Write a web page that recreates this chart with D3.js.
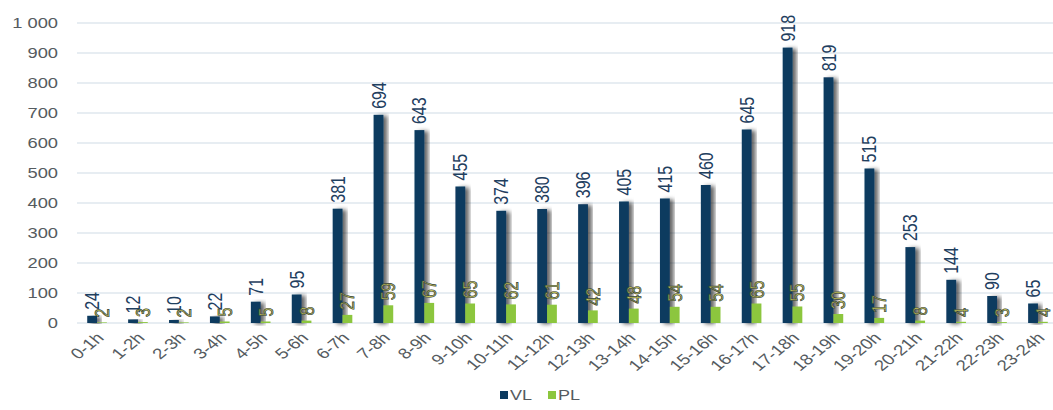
<!DOCTYPE html>
<html>
<head>
<meta charset="utf-8">
<script src="https://cdn.jsdelivr.net/npm/d3@7"></script>
<style>
body{margin:0;background:#fff;}
text{font-family:"Liberation Sans",Arial,sans-serif;}
</style>
</head>
<body>
<div id="chart"></div>
<script>
// hours of the day
var hours = ["0-1h","1-2h","2-3h","3-4h","4-5h","5-6h","6-7h","7-8h","8-9h","9-10h","10-11h","11-12h",
    "12-13h","13-14h","14-15h","15-16h","16-17h","17-18h","18-19h","19-20h","20-21h","21-22h","22-23h","23-24h"];
var vlValues = [24,12,10,22,71,95,381,694,643,455,374,380,396,405,415,460,645,918,819,515,253,144,90,65];
var plValues = [2,3,2,5,5,8,27,59,67,65,62,61,42,48,54,54,65,55,30,17,8,4,3,4];
var yTicks = [0,100,200,300,400,500,600,700,800,900,1000];
var seriesNames = ["VL","PL"];

var width = 1053, height = 410;
var colors = {VL:"#0c3a5f", PL:"#8cc63e"};
var sx = 1.22; // the picture is a bit wider than tall, text too

var svg = d3.select("#chart").append("svg")
    .attr("width", width)
    .attr("height", height);

// drop shadow like in excel
var filter = svg.append("defs").append("filter")
    .attr("id","shadow")
    .attr("x","-50%").attr("y","-10%")
    .attr("width","200%").attr("height","120%");
filter.append("feDropShadow")
    .attr("dx",4).attr("dy",1)
    .attr("stdDeviation",2)
    .attr("flood-color","#000")
    .attr("flood-opacity",0.6);

var x = d3.scaleBand().domain(hours).range([77, 1058]).paddingInner(0.52).paddingOuter(0.25);
var inner = d3.scaleBand().domain(seriesNames).range([0, x.bandwidth()]);
var y = d3.scaleLinear().domain([0,1000]).range([323,23]);

var fmt = d3.formatLocale({decimal:",", thousands:" ", grouping:[3], currency:["",""]}).format(",");

// gridlines
svg.append("g").selectAll("line")
    .data(yTicks)
    .enter()
    .append("line")
    .attr("x1", 77).attr("x2", 1053)
    .attr("y1", function(d){ return y(d); })
    .attr("y2", function(d){ return y(d); })
    .attr("stroke", "#dfe7ee")
    .attr("stroke-width", 1.5);

// y labels
svg.append("g").selectAll("text")
    .data(yTicks)
    .enter()
    .append("text")
    .attr("transform", function(d){ return "translate(58," + y(d) + ") scale(" + sx + ",1)"; })
    .attr("dy", "0.36em")
    .attr("text-anchor", "end")
    .attr("font-size", 15)
    .attr("fill", "#555b60")
    .text(function(d){ return fmt(d); });

var rows = hours.map(function(h, i){ return {hour:h, VL:vlValues[i], PL:plValues[i]}; });

// VL bars
svg.append("g").selectAll("rect")
    .data(rows)
    .enter()
    .append("rect")
    .attr("x", function(d){ return x(d.hour) + inner("VL"); })
    .attr("width", inner.bandwidth())
    .attr("y", function(d){ return y(d.VL); })
    .attr("height", function(d){ return y(0) - y(d.VL); })
    .attr("fill", colors.VL)
    .attr("filter", "url(#shadow)");

// PL bars
svg.append("g").selectAll("rect")
    .data(rows)
    .enter()
    .append("rect")
    .attr("x", function(d){ return x(d.hour) + inner("PL"); })
    .attr("width", inner.bandwidth())
    .attr("y", function(d){ return y(d.PL); })
    .attr("height", function(d){ return y(0) - y(d.PL); })
    .attr("fill", colors.PL);

// VL value labels
svg.append("g").selectAll("text")
    .data(rows)
    .enter()
    .append("text")
    .attr("transform", function(d){
        var cx = x(d.hour) + inner("VL") + inner.bandwidth()/2;
        return "translate(" + cx + "," + (y(d.VL) - 6) + ") scale(" + sx + ",1) rotate(-90)";
    })
    .attr("dy", "0.36em")
    .attr("font-size", 16)
    .attr("fill", "#1f405f")
    .text(function(d){ return d.VL; });

// PL value labels
svg.append("g").selectAll("text")
    .data(rows)
    .enter()
    .append("text")
    .attr("transform", function(d){
        var cx = x(d.hour) + inner("PL") + inner.bandwidth()/2;
        return "translate(" + cx + "," + (y(d.PL) - 5) + ") scale(" + sx + ",1) rotate(-90)";
    })
    .attr("dy", "0.36em")
    .attr("font-size", 16)
    .attr("fill", "#c9c65a")
    .attr("stroke", "#34423a")
    .attr("stroke-width", 0.6)
    .text(function(d){ return d.PL; });

// x labels
svg.append("g").selectAll("text")
    .data(hours)
    .enter()
    .append("text")
    .attr("transform", function(d){
        return "translate(" + (x(d) + x.bandwidth()/2 + 3) + ",335) scale(1.25,1) rotate(-45)";
    })
    .attr("text-anchor", "end")
    .attr("dy", "0.36em")
    .attr("font-size", 15)
    .attr("fill", "#555b60")
    .text(function(d){ return d; });

// legend
var legend = svg.append("g").selectAll("g")
    .data(seriesNames)
    .enter()
    .append("g")
    .attr("transform", function(d, i){ return "translate(" + (500 + i*48) + ",390)"; });
legend.append("rect")
    .attr("width", 8).attr("height", 8)
    .attr("y", 1)
    .attr("fill", function(d){ return colors[d]; });
legend.append("text")
    .attr("transform", "translate(10,5) scale(1.2,1)")
    .attr("dy", "0.36em")
    .attr("font-size", 15)
    .attr("fill", "#555b60")
    .text(function(d){ return d; });
</script>
</body>
</html>
